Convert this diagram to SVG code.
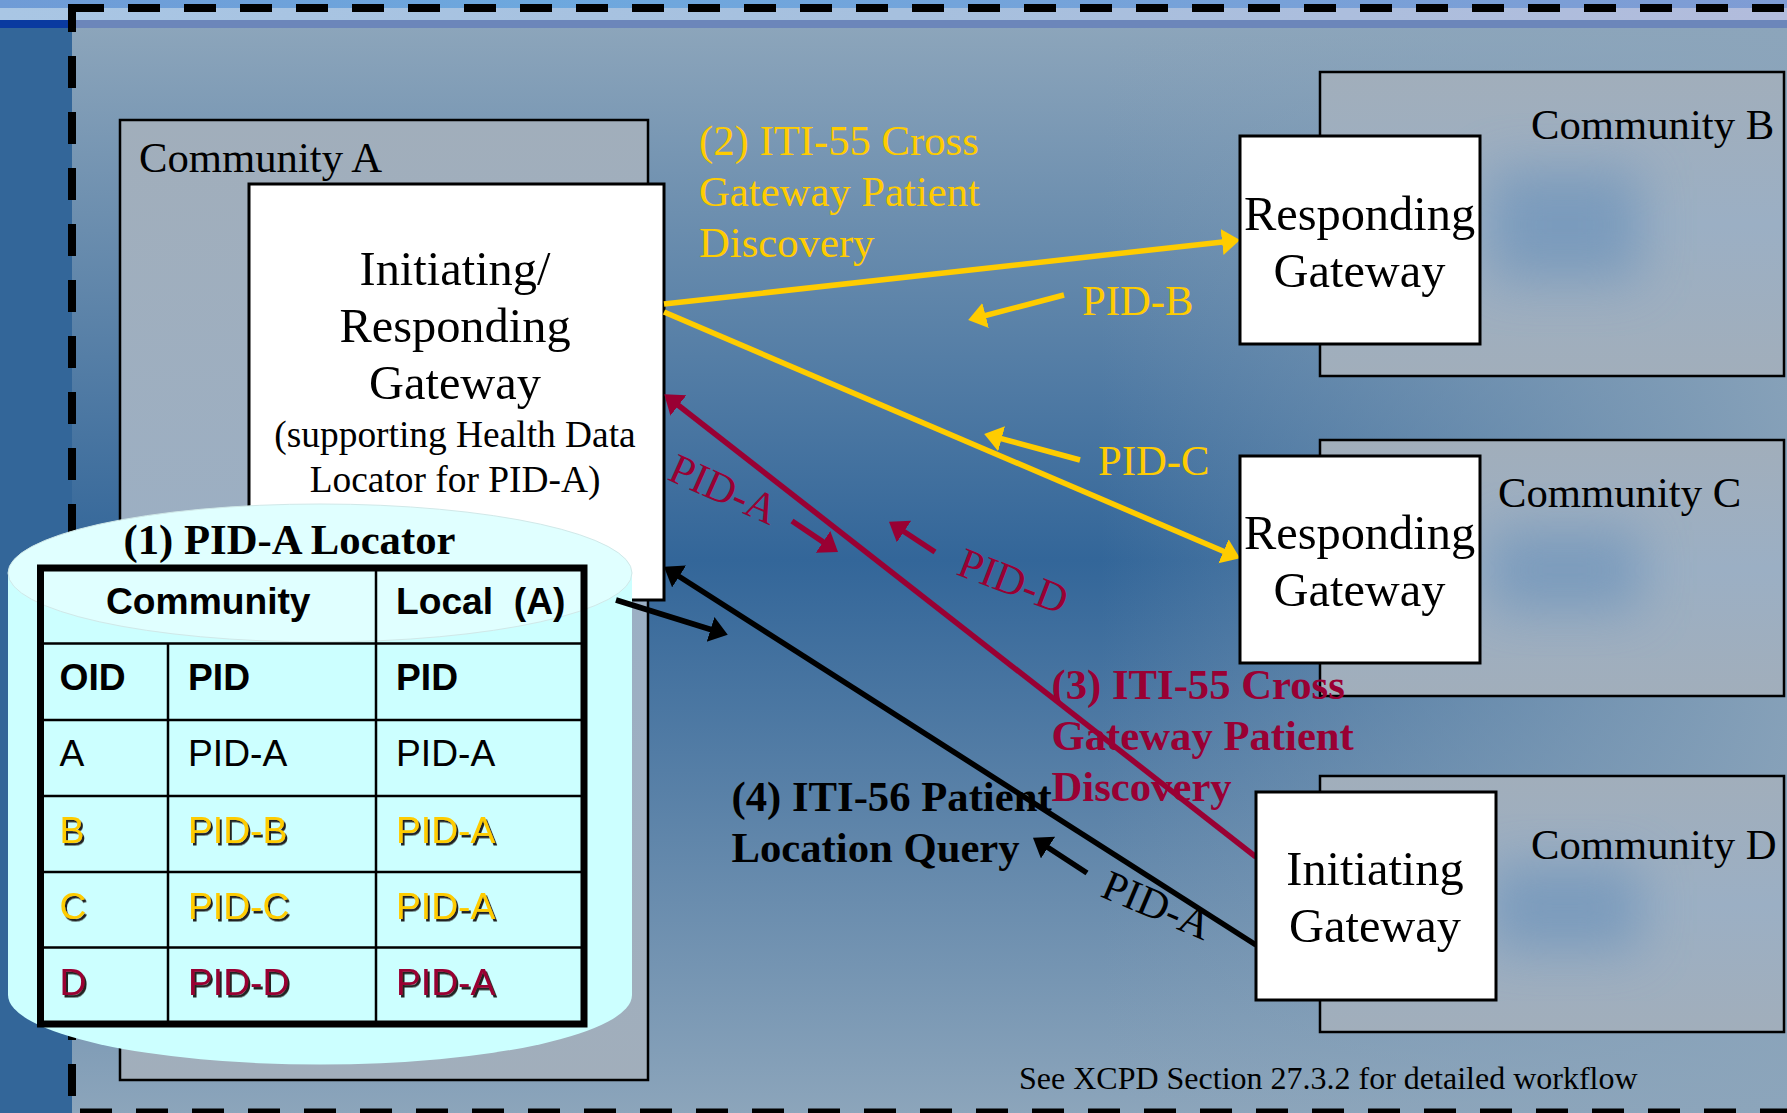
<svg xmlns="http://www.w3.org/2000/svg" width="1787" height="1113" viewBox="0 0 1787 1113">
<style>
text{font-family:"Liberation Serif","Times New Roman",serif;font-size:42.700px;fill:#000}
.gw{font-size:48.400px;text-anchor:middle}
.sm{font-size:37.400px;text-anchor:middle}
.b{font-weight:bold}
.y{fill:#ffcc00}
.r{fill:#990033}
.box{fill:#fff;stroke:#000;stroke-width:3}
.com{fill:url(#comFill);stroke:#000;stroke-width:2.500}
.blob{fill:#6f94ba;opacity:.75;filter:url(#blur)}
.t{font-family:"Liberation Sans",Arial,sans-serif;font-size:37.200px}
.tb{font-weight:bold}
.s{filter:url(#shadow)}
.dash{fill:none;stroke:#000;stroke-dasharray:32 24}
.line{fill:none;stroke-width:5.500}
.ly{stroke:#ffcc00}
.lr{stroke:#990033}
.lk{stroke:#000}
.grid{fill:none;stroke:#000;stroke-width:2.500}
</style>
<defs>
<linearGradient id="bgV" x1="0" y1="28" x2="0" y2="1113" gradientUnits="userSpaceOnUse">
<stop offset="0" stop-color="#8ca5bb"/><stop offset="0.49" stop-color="#336699"/><stop offset="1" stop-color="#8ca5bb"/>
</linearGradient>
<linearGradient id="bgH" x1="1100" y1="0" x2="1787" y2="0" gradientUnits="userSpaceOnUse">
<stop offset="0" stop-color="#8ca5bb" stop-opacity="0"/><stop offset="1" stop-color="#8ca5bb" stop-opacity="0.9"/>
</linearGradient>
<linearGradient id="top" x1="0" y1="0" x2="1" y2="0">
<stop offset="0" stop-color="#a9c6e4"/><stop offset="0.5" stop-color="#a6c0de"/><stop offset="1" stop-color="#b2bcdc"/>
</linearGradient>
<linearGradient id="sky" x1="0" y1="0" x2="1" y2="0">
<stop offset="0" stop-color="#6f9bd6"/><stop offset="0.3" stop-color="#6da8de"/><stop offset="1" stop-color="#7f9cd4"/>
</linearGradient>
<linearGradient id="comFill" x1="0" y1="0" x2="0" y2="1">
<stop offset="0" stop-color="#a1aebb"/><stop offset="0.5" stop-color="#9bafc4"/><stop offset="1" stop-color="#a1aebb"/>
</linearGradient>
<filter id="blur" x="-60%" y="-60%" width="220%" height="220%"><feGaussianBlur stdDeviation="26"/></filter>
<filter id="shadow" x="-10%" y="-10%" width="125%" height="125%"><feDropShadow dx="2" dy="2.500" stdDeviation="0.500" flood-color="#222" flood-opacity="1"/></filter>
<clipPath id="cB"><rect x="1320" y="72" width="464" height="304"/></clipPath>
<clipPath id="cC"><rect x="1320" y="440" width="464" height="256"/></clipPath>
<clipPath id="cD"><rect x="1320" y="776" width="464" height="256"/></clipPath>
<marker id="ay" markerUnits="userSpaceOnUse" markerWidth="20" markerHeight="28" refX="12" refY="13" orient="auto"><path d="M0 0L18 13L0 26Z" fill="#ffcc00"/></marker>
<marker id="ar" markerUnits="userSpaceOnUse" markerWidth="20" markerHeight="28" refX="12" refY="13" orient="auto"><path d="M0 0L18 13L0 26Z" fill="#990033"/></marker>
<marker id="ak" markerUnits="userSpaceOnUse" markerWidth="20" markerHeight="28" refX="12" refY="13" orient="auto"><path d="M0 0L18 13L0 26Z" fill="#000"/></marker>
</defs>

<g id="background">
<rect width="1787" height="1113" fill="#336699"/>
<rect x="72" y="28" width="1715" height="1085" fill="url(#bgV)"/>
<rect x="1100" y="28" width="687" height="1085" fill="url(#bgH)"/>
<rect width="1787" height="8" fill="url(#sky)"/>
<rect y="8" width="1787" height="12" fill="url(#top)"/>
<rect y="20" width="1787" height="8" fill="#6c86ba"/>
<rect y="20" width="72" height="8" fill="#0a3aa0"/>
<path class="dash" stroke-width="8" d="M128 8H1787"/>
<path fill="none" stroke="#000" stroke-width="8" d="M104 8H72V32"/>
<path class="dash" stroke-width="8" d="M72 56V1113"/>
<path class="dash" stroke-width="5" d="M80 1111H1787"/>
</g>

<g id="community-a"><rect class="com" x="120" y="120" width="528" height="960"/><text x="139" y="172">Community A</text></g>
<g id="community-b"><rect class="com" x="1320" y="72" width="464" height="304"/><g clip-path="url(#cB)"><rect class="blob" x="1490" y="170" width="150" height="110"/></g><text x="1531" y="139">Community B</text></g>
<g id="community-c"><rect class="com" x="1320" y="440" width="464" height="256"/><g clip-path="url(#cC)"><rect class="blob" x="1490" y="530" width="150" height="80"/></g><text x="1498" y="507">Community C</text></g>
<g id="community-d"><rect class="com" x="1320" y="776" width="464" height="256"/><g clip-path="url(#cD)"><rect class="blob" x="1490" y="865" width="150" height="85"/></g><text x="1531" y="859">Community D</text></g>

<g id="gateway-a"><rect class="box" x="249" y="184" width="415" height="416"/>
<text class="gw" x="455" y="285">Initiating/</text><text class="gw" x="455" y="342">Responding</text><text class="gw" x="455" y="399">Gateway</text>
<text class="sm" x="455" y="447">(supporting Health Data</text><text class="sm" x="455" y="492">Locator for PID-A)</text></g>

<g id="connectors">
<path class="line ly" d="M664 304L1234 240.700" marker-end="url(#ay)"/>
<path class="line ly" d="M664 312L1234.500 556" marker-end="url(#ay)"/>
<path class="line lr" d="M1256 857L669 398" marker-end="url(#ar)"/>
<path class="line lk" d="M1256 945L669 570" marker-end="url(#ak)"/>
<path class="line ly" d="M1064 295L974 318.500" marker-end="url(#ay)"/>
<path class="line ly" d="M1080 460L990 435.600" marker-end="url(#ay)"/>
<path class="line lr" d="M935 552L894 525" marker-end="url(#ar)"/>
<path class="line lr" d="M792 521L833 548.600" marker-end="url(#ar)"/>
<path class="line lk" d="M1087 873L1038 841" marker-end="url(#ak)"/>
</g>

<g id="gateway-b"><rect class="box" x="1240" y="136" width="240" height="208"/><text class="gw" x="1359.500" y="230">Responding</text><text class="gw" x="1359.500" y="287">Gateway</text></g>
<g id="gateway-c"><rect class="box" x="1240" y="456" width="240" height="207"/><text class="gw" x="1359.500" y="549">Responding</text><text class="gw" x="1359.500" y="606">Gateway</text></g>
<g id="gateway-d"><rect class="box" x="1256" y="792" width="240" height="208"/><text class="gw" x="1375" y="885">Initiating</text><text class="gw" x="1375" y="942">Gateway</text></g>

<g id="locator">
<path fill="#ccffff" d="M8 573V995A312 69.500 0 0 0 632 995V573Z"/>
<ellipse cx="320" cy="573" rx="312" ry="69" fill="#e0ffff" stroke="#d0e8e8" stroke-width="1"/>
<text class="b" x="123.500" y="554">(1) PID-A Locator</text>
<rect x="40.500" y="568" width="543.500" height="456" fill="none" stroke="#000" stroke-width="7"/>
<path class="grid" d="M40 643.500H584M40 720H584M40 796H584M40 872H584M40 947.500H584M168 643.500V1024M376 568V1024"/>
<text class="t tb" x="106" y="614">Community</text><text class="t tb" x="396" y="614" xml:space="preserve">Local  (A)</text>
<text class="t tb" x="59.500" y="690">OID</text><text class="t tb" x="188" y="690">PID</text><text class="t tb" x="396" y="690">PID</text>
<text class="t" x="59.500" y="766">A</text><text class="t" x="188" y="766">PID-A</text><text class="t" x="396" y="766">PID-A</text>
<text class="t y s" x="59.500" y="843">B</text><text class="t y s" x="188" y="843">PID-B</text><text class="t y s" x="396" y="843">PID-A</text>
<text class="t y s" x="59.500" y="919">C</text><text class="t y s" x="188" y="919">PID-C</text><text class="t y s" x="396" y="919">PID-A</text>
<text class="t r s" x="59.500" y="995">D</text><text class="t r s" x="188" y="995">PID-D</text><text class="t r s" x="396" y="995">PID-A</text>
</g>
<g id="locator-arrow"><path class="line lk" d="M616 600L722 633" marker-end="url(#ak)"/></g>

<g id="labels">
<text class="y" x="699" y="155">(2) ITI-55 Cross</text><text class="y" x="699" y="206">Gateway Patient</text><text class="y" x="699" y="257">Discovery</text>
<text class="y" x="1082" y="315">PID-B</text><text class="y" x="1098" y="475">PID-C</text>
<text class="r" transform="translate(666 479) rotate(24)">PID-A</text>
<text class="r" transform="translate(955 574) rotate(21)">PID-D</text>
<text transform="translate(1099 896) rotate(23)">PID-A</text>
<text class="r b" x="1051.500" y="699">(3) ITI-55 Cross</text><text class="r b" x="1051.500" y="750">Gateway Patient</text><text class="r b" x="1051.500" y="801">Discovery</text>
<text class="b" x="731.500" y="811">(4) ITI-56 Patient</text><text class="b" x="731.500" y="862">Location Query</text>
<text x="1019" y="1089" style="font-size:32px">See XCPD Section 27.3.2 for detailed workflow</text>
</g>
</svg>
